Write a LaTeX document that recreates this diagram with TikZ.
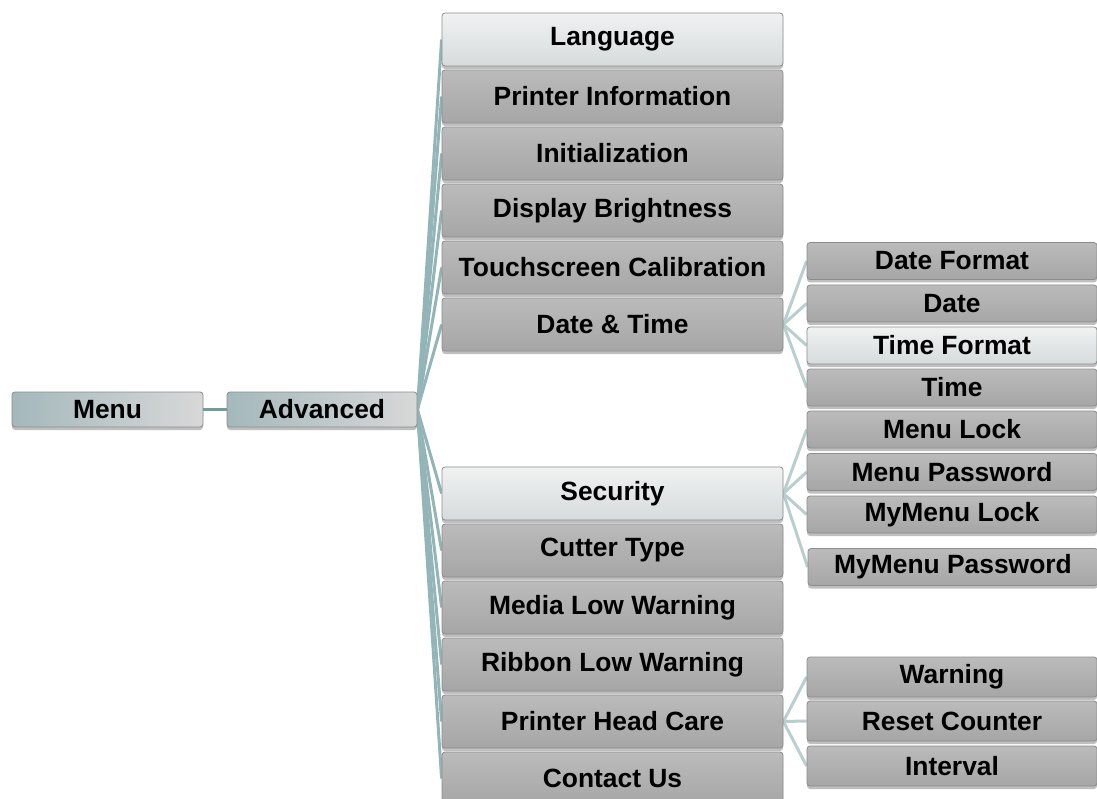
\documentclass[tikz,border=0pt]{standalone}
\usepackage{fontspec}
\setmainfont{Liberation Sans}
\usetikzlibrary{shadows,backgrounds}
\definecolor{boxgreyT}{HTML}{BBBBBB}
\definecolor{boxgreyB}{HTML}{A6A6A6}
\definecolor{boxlightT}{HTML}{F0F2F2}
\definecolor{boxlightB}{HTML}{D6DBDB}
\definecolor{rootL}{HTML}{A4B8BC}
\definecolor{rootR}{HTML}{D8D8D8}
\definecolor{edgegrey}{HTML}{8C8C8C}
\definecolor{fanmain}{HTML}{93B5B7}
\definecolor{fansub}{HTML}{B9CFCF}
\definecolor{rootline}{HTML}{6E9CA0}
\begin{document}
\begin{tikzpicture}[x=1pt,y=-1pt,
  base/.style={draw=edgegrey, line width=0.8pt, rounded corners=3pt, inner sep=0pt,
    font=\fontsize{26.4}{30}\selectfont\bfseries, text=black, align=center,
    drop shadow={shadow xshift=0pt, shadow yshift=-3pt, opacity=0.25, fill=black}},
  grey/.style={base, top color=boxgreyT, bottom color=boxgreyB},
  light/.style={base, top color=boxlightT, bottom color=boxlightB},
  root/.style={base, left color=rootL, right color=rootR, minimum width=191pt, minimum height=35pt},
  lvtwo/.style={minimum width=341pt, minimum height=53pt},
  lvthree/.style={minimum width=290pt, minimum height=37pt},
  lvthreeb/.style={minimum width=290pt, minimum height=40pt},
  fanA/.style={draw=fanmain, line width=3pt},
  fanB/.style={draw=fansub, line width=3pt},
  rootedge/.style={draw=rootline, line width=3pt}
]
\useasboundingbox (0,0) rectangle (1097,799);
\clip (0,0) rectangle (1097,799);

\node[root] (menu) at (107.5,409.5) {Menu};
\node[root, minimum width=190pt] (adv) at (322,409.5) {Advanced};

\node[light, lvtwo] (lang) at (612.5,39.5) {Language};
\node[grey, lvtwo] (pinfo) at (612.5,96.5) {Printer Information};
\node[grey, lvtwo] (init) at (612.5,153.5) {Initialization};
\node[grey, lvtwo] (disp) at (612.5,210.5) {Display Brightness};
\node[grey, lvtwo] (touch) at (612.5,267.5) {Touchscreen Calibration};
\node[grey, lvtwo] (dt) at (612.5,324.5) {Date \& Time};
\node[light, lvtwo] (sec) at (612.5,493.5) {Security};
\node[grey, lvtwo] (cut) at (612.5,550.5) {Cutter Type};
\node[grey, lvtwo] (media) at (612.5,607.5) {Media Low Warning};
\node[grey, lvtwo] (ribbon) at (612.5,664.5) {Ribbon Low Warning};
\node[grey, lvtwo] (head) at (612.5,721.5) {Printer Head Care};
\node[grey, lvtwo, minimum height=53pt] (contact) at (612.5,778.5) {Contact Us};

\node[grey, lvthree] (dfmt) at (952,261) {Date Format};
\node[grey, lvthree] (date) at (952,303.5) {Date};
\node[light, lvthree] (tfmt) at (952,345.5) {Time Format};
\node[grey, lvthree] (time) at (952,387.5) {Time};
\node[grey, lvthree] (mlock) at (952,429.5) {Menu Lock};
\node[grey, lvthree] (mpass) at (952,472) {Menu Password};
\node[grey, lvthree] (mylock) at (952,514.5) {MyMenu Lock};
\node[grey, lvthree] (mypass) at (953,567) {MyMenu Password};

\node[grey, lvthreeb] (warn) at (952,677) {Warning};
\node[grey, lvthreeb] (reset) at (952,721) {Reset Counter};
\node[grey, lvthreeb] (intv) at (952,766) {Interval};

\begin{scope}[on background layer]
\draw[rootedge] (menu.east) -- (adv.west);
\foreach \n in {lang,pinfo,init,disp,touch,dt,sec,cut,media,ribbon,head,contact}
  \draw[fanA] (adv.east) -- (\n.west);
\foreach \n in {dfmt,date,tfmt,time}
  \draw[fanB] (dt.east) -- (\n.west);
\foreach \n in {mlock,mpass,mylock,mypass}
  \draw[fanB] (sec.east) -- (\n.west);
\foreach \n in {warn,reset,intv}
  \draw[fanB] (head.east) -- (\n.west);
\end{scope}
\end{tikzpicture}
\end{document}
